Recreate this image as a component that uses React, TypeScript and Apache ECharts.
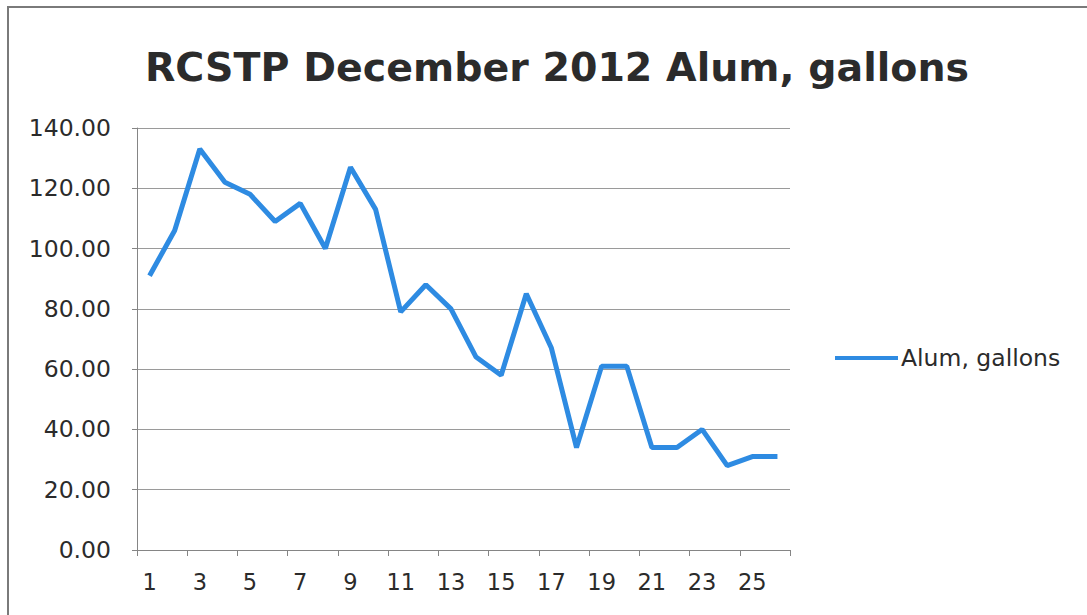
import React, { useEffect, useRef } from "react";
import * as echarts from "echarts";

const titleText = "RCSTP December 2012 Alum, gallons";
const seriesName = "Alum, gallons";
const days = [
  "1", "2", "3", "4", "5", "6", "7", "8", "9", "10", "11", "12", "13",
  "14", "15", "16", "17", "18", "19", "20", "21", "22", "23", "24", "25", "26",
];
const alumGallons = [
  91, 106, 133, 122, 118, 109, 115, 100, 127, 113, 79, 88, 80,
  64, 58, 85, 67, 34, 61, 61, 34, 34, 40, 28, 31, 31,
];
const yMin = 0;
const yMax = 140;
const yStep = 20;

export default function App() {
  const ref = useRef<HTMLDivElement>(null);
  useEffect(() => {
    if (!ref.current) return;
    const chart = echarts.init(ref.current, undefined, { renderer: "svg" });
    const font = "DejaVu Sans";
    chart.setOption({
      animation: false,
      backgroundColor: "#ffffff",
      graphic: [
        {
          type: "rect",
          shape: { x: 8, y: 7, width: 1200, height: 700 },
          style: { fill: "none", stroke: "#7a7a7a", lineWidth: 2 },
          silent: true,
        },
      ],
      title: {
        text: titleText,
        left: "552",
        textAlign: "center",
        top: 42,
        textStyle: {
          fontFamily: font,
          fontWeight: "bold",
          fontSize: 39.5,
          color: "#2b2b2b",
        },
      },
      legend: {
        data: [seriesName],
        left: 830,
        top: 341,
        icon: "rect",
        itemWidth: 63,
        itemHeight: 4,
        itemGap: 5,
        textStyle: {
          fontFamily: font,
          fontSize: 23.5,
          color: "#2b2b2b",
          padding: [0, 0, 0, -2],
        },
      },
      grid: {
        left: 137,
        right: 297,
        top: 128,
        bottom: 65,
        containLabel: false,
      },
      xAxis: {
        type: "category",
        data: days,
        boundaryGap: true,
        axisLine: { show: true, lineStyle: { color: "#858585", width: 1 } },
        axisTick: {
          show: true,
          alignWithLabel: false,
          length: 6,
          lineStyle: { color: "#858585" },
        },
        axisLabel: {
          interval: 1,
          margin: 20,
          fontFamily: font,
          fontSize: 22.5,
          color: "#2b2b2b",
        },
        splitLine: { show: false },
      },
      yAxis: {
        type: "value",
        min: yMin,
        max: yMax,
        interval: yStep,
        axisLine: { show: true, lineStyle: { color: "#858585", width: 1 } },
        axisTick: { show: true, length: 5, lineStyle: { color: "#858585" } },
        axisLabel: {
          margin: 26,
          fontFamily: font,
          fontSize: 23.5,
          color: "#2b2b2b",
          formatter: (v: number) => v.toFixed(2),
        },
        splitLine: { show: true, lineStyle: { color: "#9a9a9a", width: 1 } },
      },
      series: [
        {
          name: seriesName,
          type: "line",
          data: alumGallons,
          symbol: "none",
          lineStyle: { color: "#2e8be2", width: 5 },
          itemStyle: { color: "#2e8be2" },
        },
      ],
    });
    return () => chart.dispose();
  }, []);
  return (
    <div
      ref={ref}
      style={{ position: "fixed", left: 0, top: 0, width: 1087, height: 615 }}
    />
  );
}
